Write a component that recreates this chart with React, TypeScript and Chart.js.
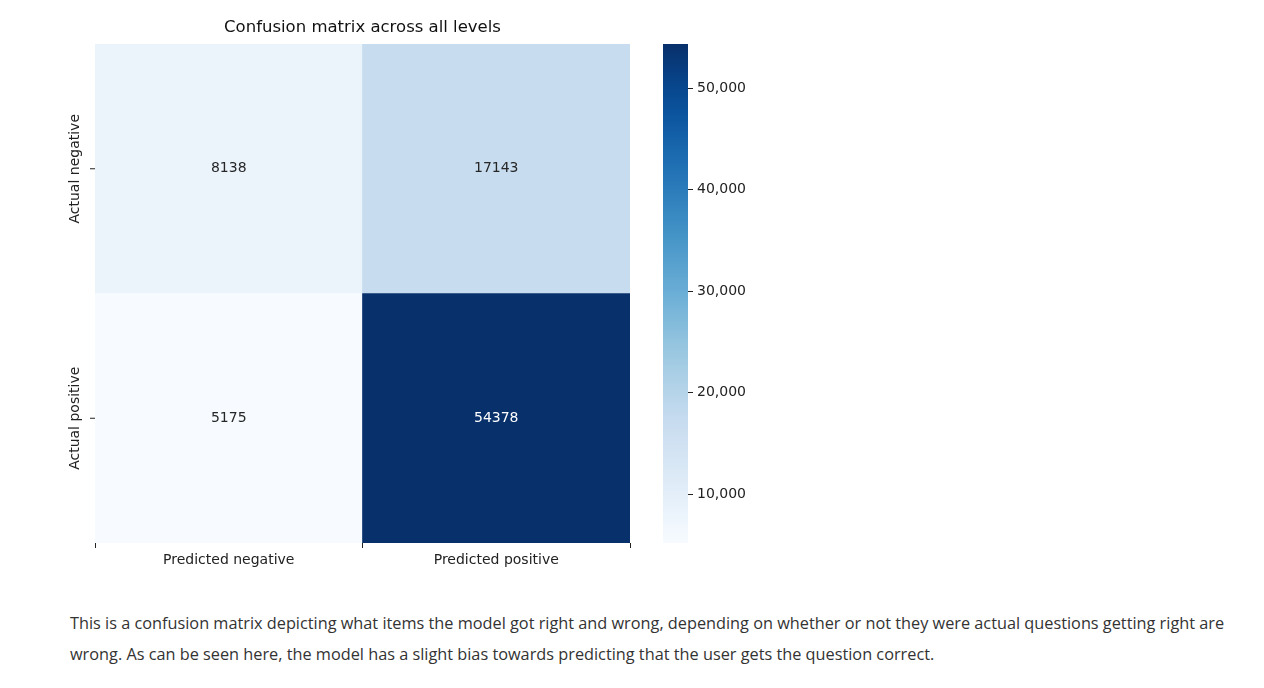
import React, { useEffect, useRef } from "react";
import { Chart, registerables } from "chart.js";
Chart.register(...registerables);

const predicted = ["Predicted negative", "Predicted positive"];
const actual = ["Actual negative", "Actual positive"];
const rowNegative = [8138, 17143];
const rowPositive = [5175, 54378];
const colorbarTicks = [10000, 20000, 30000, 40000, 50000];
const title = "Confusion matrix across all levels";

const allVals = [...rowNegative, ...rowPositive];
const vMin = Math.min(...allVals);
const vMax = Math.max(...allVals);
const blues = ["#f7fbff", "#deebf7", "#c6dbef", "#9ecae1", "#6baed6", "#4292c6", "#2171b5", "#08519c", "#08306b"];
function hex(h: string) { return [1, 3, 5].map(i => parseInt(h.slice(i, i + 2), 16)); }
function cmap(v: number) {
  const t = Math.max(0, Math.min(1, (v - vMin) / (vMax - vMin))) * (blues.length - 1);
  const i = Math.min(Math.floor(t), blues.length - 2);
  const f = t - i;
  const a = hex(blues[i]), b = hex(blues[i + 1]);
  const c = a.map((x, k) => Math.round(x + (b[k] - x) * f));
  return `rgb(${c[0]},${c[1]},${c[2]})`;
}
const FONT = "'DejaVu Sans'";

export default function App() {
  const ref1 = useRef<HTMLCanvasElement>(null);
  const ref2 = useRef<HTMLCanvasElement>(null);
  useEffect(() => {
    const labelsPlugin = {
      id: "cellLabels",
      afterDatasetsDraw(chart: any) {
        const ctx = chart.ctx;
        ctx.save();
        ctx.font = `14px ${FONT}`;
        ctx.textAlign = "center";
        ctx.textBaseline = "middle";
        chart.data.datasets.forEach((ds: any, di: number) => {
          chart.getDatasetMeta(di).data.forEach((el: any, i: number) => {
            const v = ds.values[i];
            ctx.fillStyle = (v - vMin) / (vMax - vMin) > 0.5 ? "#ffffff" : "#262626";
            ctx.fillText(String(v), el.x, (el.y + el.base) / 2);
          });
        });
        // title
        const ca = chart.chartArea;
        ctx.fillStyle = "#111";
        ctx.font = `16.5px ${FONT}`;
        ctx.textBaseline = "alphabetic";
        ctx.fillText(title, (ca.left + ca.right) / 2, 32);
        // y labels
        const ys = chart.scales.y;
        ctx.font = `14px ${FONT}`;
        ctx.strokeStyle = "#222";
        ctx.lineWidth = 1;
        actual.forEach((lab, i) => {
          const py = ys.getPixelForValue(i === 0 ? 1.5 : 0.5);
          ctx.beginPath();
          ctx.moveTo(ca.left - 5, py); ctx.lineTo(ca.left, py); ctx.stroke();
          ctx.save();
          ctx.translate(ca.left - 20, py);
          ctx.rotate(-Math.PI / 2);
          ctx.textBaseline = "middle";
          ctx.fillStyle = "#222";
          ctx.fillText(lab, 0, 0);
          ctx.restore();
        });
        ctx.restore();
      },
    };
    const c1 = new Chart(ref1.current!, {
      type: "bar",
      data: {
        labels: predicted,
        datasets: [
          { label: actual[1], data: [1, 1], values: rowPositive, backgroundColor: rowPositive.map(cmap) } as any,
          { label: actual[0], data: [1, 1], values: rowNegative, backgroundColor: rowNegative.map(cmap) } as any,
        ],
      },
      options: {
        animation: false, responsive: false,
        layout: { padding: { left: 95, top: 44, right: 10, bottom: 0 } },
        datasets: { bar: { barPercentage: 1, categoryPercentage: 1, borderWidth: 0 } },
        plugins: { legend: { display: false }, tooltip: { enabled: false } },
        scales: {
          x: {
            stacked: true,
            grid: { display: true, drawOnChartArea: false, drawTicks: true, tickLength: 5, color: "#222" },
            border: { display: false },
            ticks: { color: "#222", font: { family: FONT, size: 14 }, padding: 4 },
            afterFit: (s: any) => { s.height = 47; },
          },
          y: { stacked: true, display: false, min: 0, max: 2 },
        },
      } as any,
      plugins: [labelsPlugin],
    });
    const c2 = new Chart(ref2.current!, {
      type: "bar",
      data: {
        labels: [""],
        datasets: [{
          data: [[vMin, vMax]],
          backgroundColor: (ctx: any) => {
            const ca = ctx.chart.chartArea;
            if (!ca) return blues[0];
            const g = ctx.chart.ctx.createLinearGradient(0, ca.bottom, 0, ca.top);
            for (let k = 0; k <= 20; k++) g.addColorStop(k / 20, cmap(vMin + (vMax - vMin) * k / 20));
            return g;
          },
          borderWidth: 0,
        } as any],
      },
      options: {
        animation: false, responsive: false,
        layout: { padding: { left: 23, top: 44, bottom: 47, right: 0 } },
        datasets: { bar: { barPercentage: 1, categoryPercentage: 1 } },
        plugins: { legend: { display: false }, tooltip: { enabled: false } },
        scales: {
          x: { display: false },
          y: {
            position: "right", min: vMin, max: vMax,
            afterBuildTicks: (s: any) => { s.ticks = colorbarTicks.map(v => ({ value: v })); },
            grid: { display: true, drawOnChartArea: false, drawTicks: true, tickLength: 5, color: "#222" },
            border: { display: false },
            ticks: { color: "#222", font: { family: FONT, size: 14 }, padding: 4 },
            afterFit: (s: any) => { s.width = 92; },
          },
        },
      } as any,
    });
    return () => { c1.destroy(); c2.destroy(); };
  }, []);
  return (
    <div style={{ position: "absolute", left: 0, top: 0, width: 1264, height: 688, background: "#fff" }}>
      <canvas ref={ref1} width={640} height={590} style={{ position: "absolute", left: 0, top: 0 }} />
      <canvas ref={ref2} width={140} height={590} style={{ position: "absolute", left: 640, top: 0 }} />
      <p style={{ position: "absolute", left: 70, top: 608, margin: 0, width: 1160, fontFamily: "'Open Sans'", fontSize: 16.3, lineHeight: "31px", color: "#333" }}>
        This is a confusion matrix depicting what items the model got right and wrong, depending on whether or not they were actual questions getting right are wrong. As can be seen here, the model has a slight bias towards predicting that the user gets the question correct.
      </p>
    </div>
  );
}
